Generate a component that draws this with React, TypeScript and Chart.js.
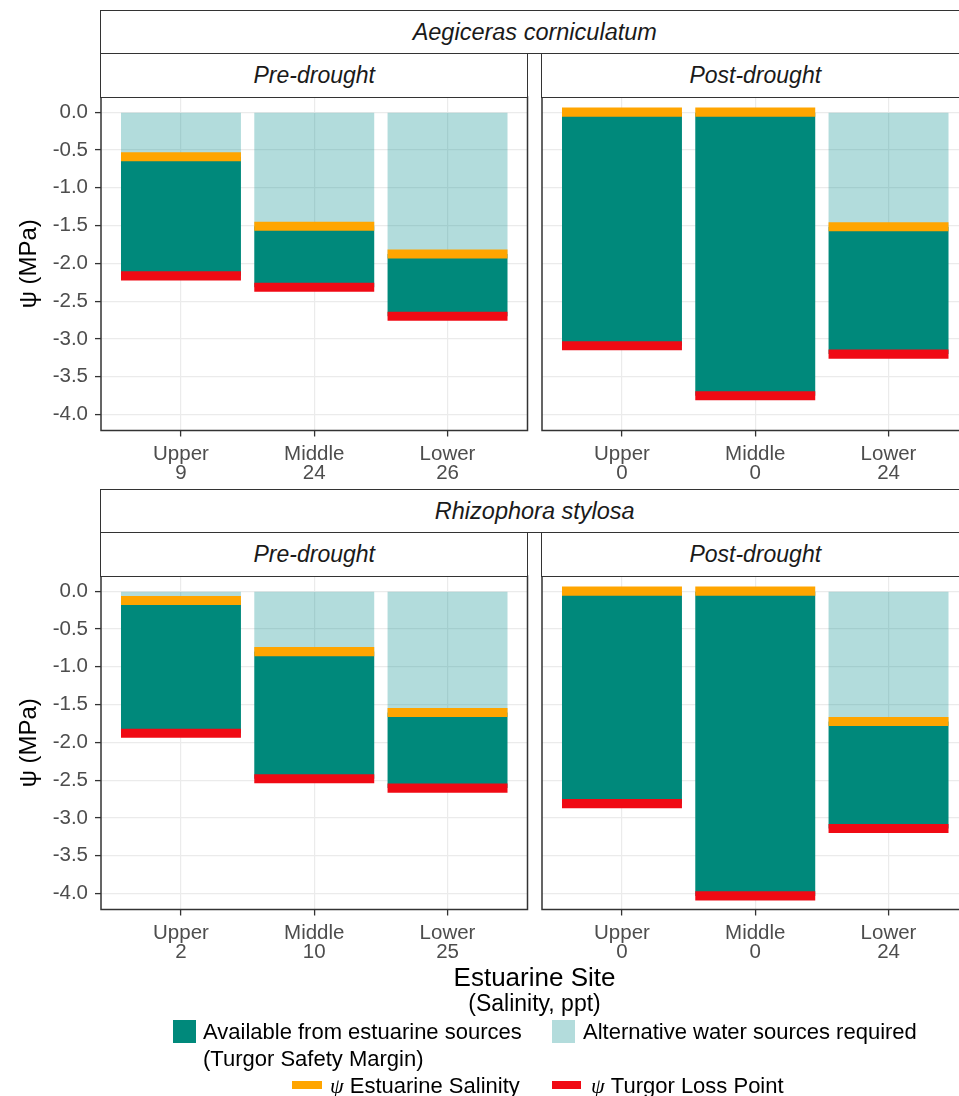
import React, { useEffect, useRef } from "react";
import { Chart, registerables } from "chart.js";
Chart.register(...registerables);

// ---------- data ----------
const SITES = ["Upper", "Middle", "Lower"];
const SITE_POS = [1, 2, 3];
const Y_TICKS = [0, -0.5, -1, -1.5, -2, -2.5, -3, -3.5, -4];
const Y_MIN = -4.21;
const Y_MAX = 0.2;

const SPECIES = ["Aegiceras corniculatum", "Rhizophora stylosa"];
const PERIODS = ["Pre-drought", "Post-drought"];

// Aegiceras corniculatum
const AEG_PRE_SALINITY = [9, 24, 26];
const AEG_PRE_PSI_SAL = [-0.59, -1.51, -1.875];
const AEG_PRE_TLP = [-2.165, -2.315, -2.7];
const AEG_POST_SALINITY = [0, 0, 24];
const AEG_POST_PSI_SAL = [0, 0, -1.515];
const AEG_POST_TLP = [-3.09, -3.75, -3.2];

// Rhizophora stylosa
const RHI_PRE_SALINITY = [2, 10, 25];
const RHI_PRE_PSI_SAL = [-0.125, -0.8, -1.605];
const RHI_PRE_TLP = [-1.88, -2.48, -2.605];
const RHI_POST_SALINITY = [0, 0, 24];
const RHI_POST_PSI_SAL = [0, 0, -1.725];
const RHI_POST_TLP = [-2.81, -4.03, -3.14];

// half thickness of the salinity / TLP marker bands (MPa)
const BAND = 0.06;

// ---------- styles ----------
const FONT = '"Liberation Sans", Arial, Helvetica, sans-serif';
const TEAL = "#00897B";
const LIGHT = "rgba(0,139,139,0.3)";
const LIGHT_KEY = "#B3DCDC";
const ORANGE = "#FFA500";
const RED = "#F00A14";
const GRID = "#EBEBEB";
const AXIS = "#333333";
const TICK_TEXT = "#4D4D4D";

const borderPlugin = {
  id: "panelBorder",
  afterDraw(chart: any) {
    const { ctx, chartArea } = chart;
    const { left, top, right, bottom } = chartArea;
    ctx.save();
    ctx.strokeStyle = AXIS;
    ctx.lineWidth = 1.5;
    ctx.strokeRect(left, top, right - left, bottom - top);
    ctx.restore();
  },
};

type PanelProps = {
  left: number;
  top: number;
  width: number;
  height: number;
  showY: boolean;
  padLeft: number;
  padRight: number;
  psiSal: number[];
  tlp: number[];
  salinity: number[];
};

function Panel(p: PanelProps) {
  const ref = useRef<HTMLCanvasElement>(null);
  useEffect(() => {
    if (!ref.current) return;
    const alt = SITE_POS.map((x, i) => ({ x, y: [0, p.psiSal[i]] }));
    const avail = SITE_POS.map((x, i) => ({ x, y: [p.psiSal[i], p.tlp[i]] }));
    const sal = SITE_POS.map((x, i) => ({ x, y: [p.psiSal[i] + BAND, p.psiSal[i] - BAND] }));
    const tl = SITE_POS.map((x, i) => ({ x, y: [p.tlp[i] + BAND, p.tlp[i] - BAND] }));
    const common = {
      grouped: false,
      categoryPercentage: 0.9,
      barPercentage: 1,
      borderWidth: 0,
      borderSkipped: false,
    };
    const chart = new Chart(ref.current, {
      type: "bar",
      data: {
        datasets: [
          { label: "ψ Turgor Loss Point", data: tl as any, backgroundColor: RED, ...common },
          { label: "ψ Estuarine Salinity", data: sal as any, backgroundColor: ORANGE, ...common },
          { label: "Available from estuarine sources", data: avail as any, backgroundColor: TEAL, ...common },
          { label: "Alternative water sources required", data: alt as any, backgroundColor: LIGHT, ...common },
        ],
      },
      options: {
        animation: false,
        responsive: false,
        devicePixelRatio: 1,
        layout: { padding: { left: p.padLeft, right: p.padRight, top: 2, bottom: 0 } },
        plugins: { legend: { display: false }, tooltip: { enabled: false } },
        scales: {
          x: {
            type: "linear",
            min: 0.4,
            max: 3.6,
            bounds: "data",
            offset: false,
            afterBuildTicks: (s: any) => {
              s.ticks = SITE_POS.map((v) => ({ value: v }));
            },
            afterFit: (s: any) => {
              s.height = 60.5;
              s.paddingLeft = 0;
              s.paddingRight = 0;
            },
            border: { display: false },
            grid: {
              offset: false,
              color: GRID,
              lineWidth: 1.2,
              drawTicks: true,
              tickLength: 6,
              tickColor: AXIS,
              tickWidth: 1.3,
            },
            ticks: {
              autoSkip: false,
              maxRotation: 0,
              color: TICK_TEXT,
              padding: 8,
              font: { family: FONT, size: 20.5, lineHeight: 0.95 },
              callback: (v: any) => {
                const i = SITE_POS.indexOf(Number(v));
                return i < 0 ? "" : [SITES[i], String(p.salinity[i])];
              },
            },
          },
          y: {
            type: "linear",
            min: Y_MIN,
            max: Y_MAX,
            bounds: "data",
            afterBuildTicks: (s: any) => {
              s.ticks = Y_TICKS.map((v) => ({ value: v }));
            },
            afterFit: (s: any) => {
              s.width = p.showY ? 101 : 0;
              s.paddingTop = 0;
              s.paddingBottom = 0;
            },
            border: { display: false },
            grid: {
              color: GRID,
              lineWidth: 1.2,
              drawTicks: p.showY,
              tickLength: 6,
              tickColor: AXIS,
              tickWidth: 1.3,
            },
            ticks: {
              display: p.showY,
              color: TICK_TEXT,
              padding: 7,
              font: { family: FONT, size: 20.5 },
              callback: (v: any) => Number(v).toFixed(1),
            },
            title: {
              display: p.showY,
              text: "ψ (MPa)",
              color: "#000000",
              font: { family: FONT, size: 24 },
              padding: { top: 15, bottom: 0 },
            },
          },
        },
      } as any,
      plugins: [borderPlugin],
    });
    return () => chart.destroy();
  }, []);
  return (
    <canvas
      ref={ref}
      width={p.width}
      height={p.height}
      style={{ position: "absolute", left: p.left, top: p.top, width: p.width, height: p.height }}
    />
  );
}

function Strip(props: { left: number; top: number; width: number; height: number; text: string; size: number }) {
  return (
    <div
      style={{
        position: "absolute",
        left: props.left,
        top: props.top,
        width: props.width,
        height: props.height,
        boxSizing: "border-box",
        border: `1.5px solid ${AXIS}`,
        background: "#fff",
        display: "flex",
        alignItems: "center",
        justifyContent: "center",
        fontStyle: "italic",
        fontSize: props.size,
        color: "#1A1A1A",
        fontFamily: FONT,
        whiteSpace: "nowrap",
      }}
    >
      {props.text}
    </div>
  );
}

const ROWS = [
  { base: 0, species: SPECIES[0], pre: [AEG_PRE_PSI_SAL, AEG_PRE_TLP, AEG_PRE_SALINITY], post: [AEG_POST_PSI_SAL, AEG_POST_TLP, AEG_POST_SALINITY] },
  { base: 479, species: SPECIES[1], pre: [RHI_PRE_PSI_SAL, RHI_PRE_TLP, RHI_PRE_SALINITY], post: [RHI_POST_PSI_SAL, RHI_POST_TLP, RHI_POST_SALINITY] },
];

export default function App() {
  return (
    <div
      style={{
        position: "absolute",
        left: 0,
        top: 0,
        width: 959,
        height: 1096,
        overflow: "hidden",
        background: "#fff",
        fontFamily: FONT,
      }}
    >
      {ROWS.map((r, ri) => (
        <React.Fragment key={ri}>
          <Panel
            left={0}
            top={r.base + 95}
            width={530}
            height={396}
            showY={true}
            padLeft={0}
            padRight={2.5}
            psiSal={r.pre[0]}
            tlp={r.pre[1]}
            salinity={r.pre[2]}
          />
          <Panel
            left={530}
            top={r.base + 95}
            width={440}
            height={396}
            showY={false}
            padLeft={12}
            padRight={1.5}
            psiSal={r.post[0]}
            tlp={r.post[1]}
            salinity={r.post[2]}
          />
          <Strip left={100.25} top={r.base + 10.25} width={869} height={44} text={r.species} size={23.5} />
          <Strip left={100.25} top={r.base + 52.75} width={428} height={45} text={PERIODS[0]} size={23} />
          <Strip left={541.25} top={r.base + 52.75} width={428} height={45} text={PERIODS[1]} size={23} />
        </React.Fragment>
      ))}

      <div style={{ position: "absolute", left: 101, width: 867, top: 962, lineHeight: "30px", fontSize: 26, textAlign: "center", color: "#000" }}>
        Estuarine Site
      </div>
      <div style={{ position: "absolute", left: 101, width: 867, top: 989, lineHeight: "28px", fontSize: 23, textAlign: "center", color: "#000" }}>
        (Salinity, ppt)
      </div>

      {/* legend */}
      <div style={{ position: "absolute", left: 173, top: 1020, width: 23, height: 23, background: TEAL }} />
      <div style={{ position: "absolute", left: 203, top: 1017.5, fontSize: 22, lineHeight: "27px", color: "#000", whiteSpace: "nowrap" }}>
        Available from estuarine sources
        <br />
        (Turgor Safety Margin)
      </div>
      <div style={{ position: "absolute", left: 552, top: 1020, width: 23, height: 23, background: LIGHT_KEY }} />
      <div style={{ position: "absolute", left: 583, top: 1017.5, fontSize: 22, lineHeight: "27px", color: "#000", whiteSpace: "nowrap" }}>
        Alternative water sources required
      </div>
      <div style={{ position: "absolute", left: 292, top: 1081, width: 30, height: 8, background: ORANGE }} />
      <div style={{ position: "absolute", left: 330, top: 1071.5, fontSize: 22, lineHeight: "27px", color: "#000", whiteSpace: "nowrap" }}>
        <span style={{ fontFamily: '"Liberation Serif", "DejaVu Serif", serif', fontStyle: "italic" }}>ψ</span> Estuarine Salinity
      </div>
      <div style={{ position: "absolute", left: 552, top: 1081, width: 29, height: 8, background: RED }} />
      <div style={{ position: "absolute", left: 591, top: 1071.5, fontSize: 22, lineHeight: "27px", color: "#000", whiteSpace: "nowrap" }}>
        <span style={{ fontFamily: '"Liberation Serif", "DejaVu Serif", serif', fontStyle: "italic" }}>ψ</span> Turgor Loss Point
      </div>
    </div>
  );
}
